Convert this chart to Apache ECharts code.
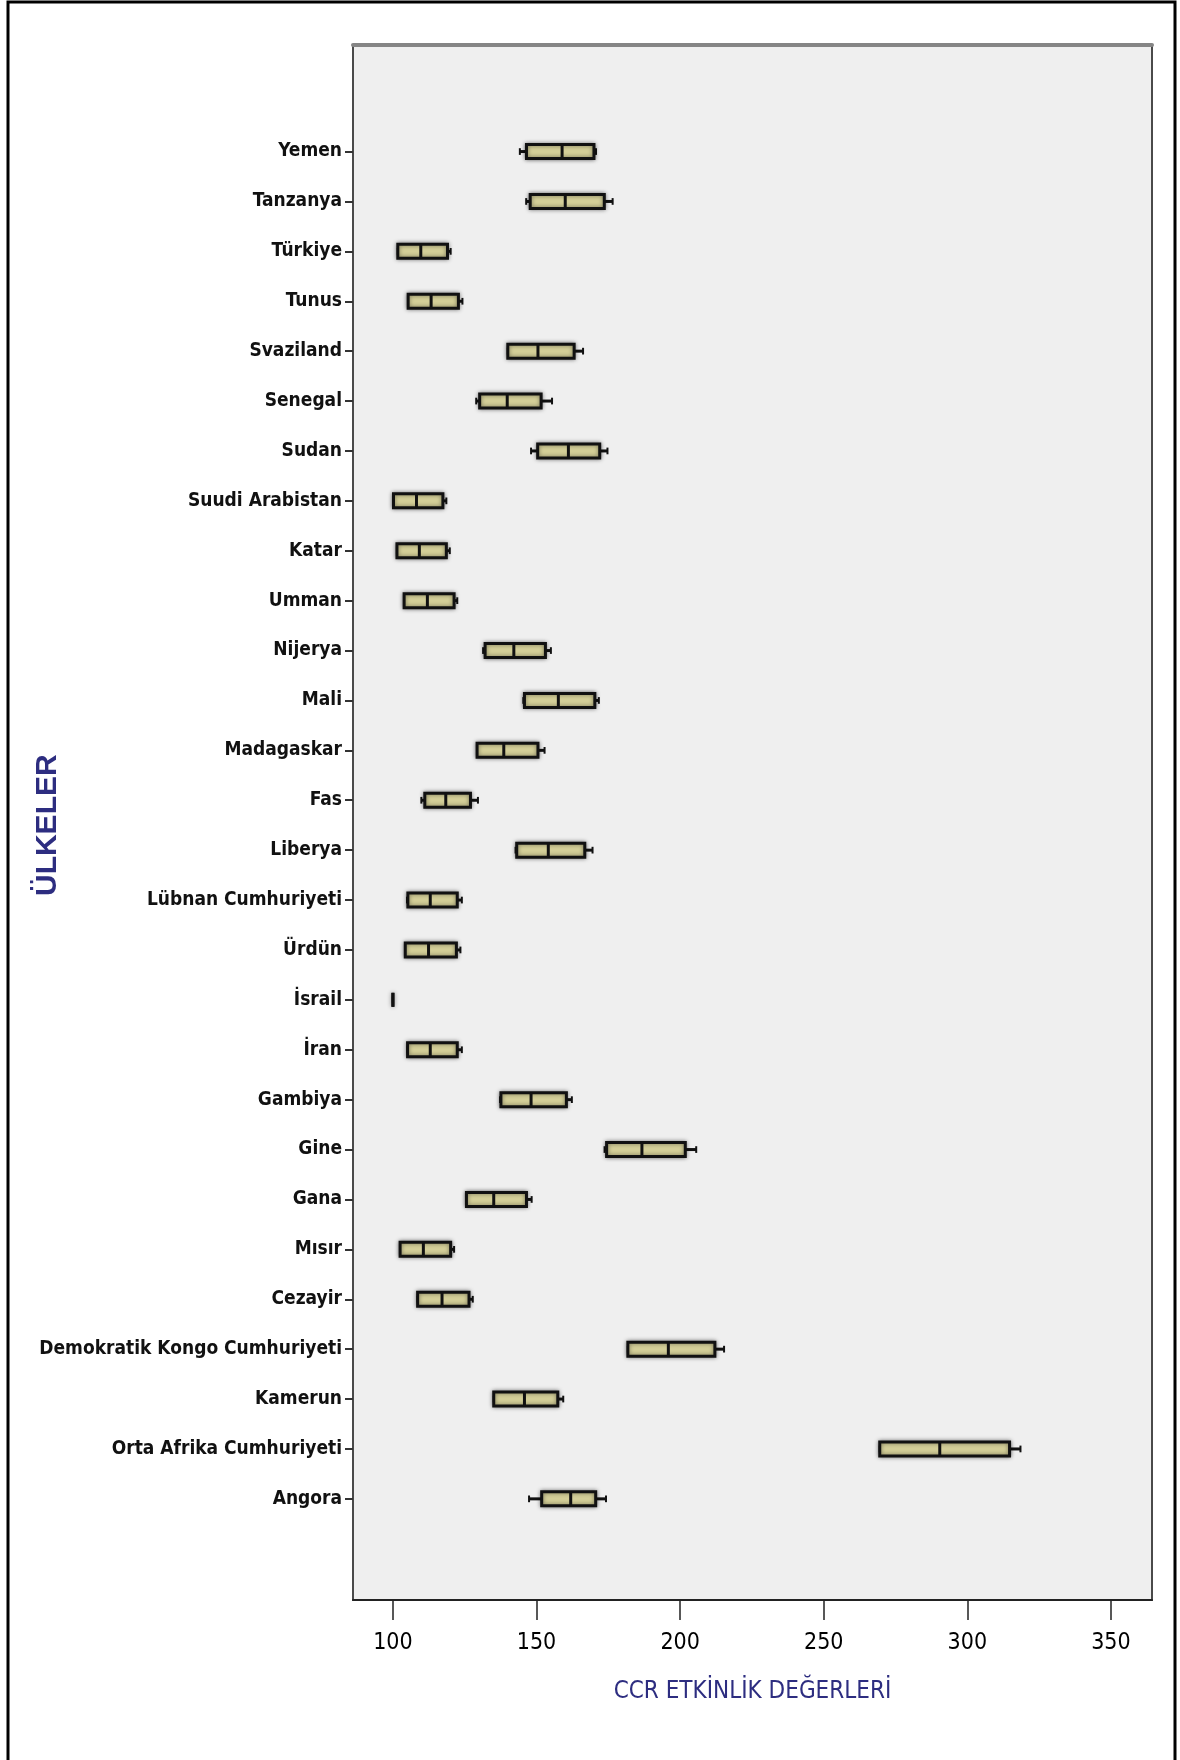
<!DOCTYPE html>
<html>
<head>
<meta charset="utf-8">
<script src="https://cdn.jsdelivr.net/npm/echarts@6/dist/echarts.min.js"></script>
<style>
  html, body { margin: 0; padding: 0; background: #fff; }
  #chart { width: 1180px; height: 1760px; }
</style>
</head>
<body>
<div id="chart"></div>
<script>
// countries, top to bottom
const countries = [
    'Yemen', 'Tanzanya', 'Türkiye', 'Tunus', 'Svaziland', 'Senegal', 'Sudan',
    'Suudi Arabistan', 'Katar', 'Umman', 'Nijerya', 'Mali', 'Madagaskar', 'Fas',
    'Liberya', 'Lübnan Cumhuriyeti', 'Ürdün', 'İsrail', 'İran', 'Gambiya', 'Gine',
    'Gana', 'Mısır', 'Cezayir', 'Demokratik Kongo Cumhuriyeti', 'Kamerun',
    'Orta Afrika Cumhuriyeti', 'Angora'
];
// box plot pieces
const whiskerLow = [144.2, 146.4, 101.7, 105.3, 140.0, 129.0, 148.1, 100.2, 101.4, 103.9, 131.4, 145.4, 129.3, 109.9,
    142.7, 104.9, 104.3, 100.0, 105.1, 137.3, 173.7, 125.6, 102.5, 108.6, 181.8, 135.1, 269.5, 147.4];
const q1 = [146.5, 147.8, 101.7, 105.3, 140.0, 130.2, 150.4, 100.2, 101.4, 103.9, 132.1, 145.8, 129.3, 111.1,
    143.1, 105.2, 104.3, 100.0, 105.1, 137.6, 174.4, 125.6, 102.5, 108.6, 181.8, 135.1, 269.5, 151.8];
const median = [158.9, 160.0, 109.7, 113.3, 150.5, 139.8, 161.1, 108.2, 109.2, 112.0, 142.1, 157.6, 138.6, 118.4,
    154.1, 113.0, 112.4, 100.0, 113.0, 148.1, 186.7, 135.1, 110.6, 117.1, 195.9, 145.8, 290.4, 161.9];
const q3 = [170.0, 173.6, 119.0, 122.8, 163.1, 151.6, 172.0, 117.4, 118.6, 121.3, 153.1, 170.3, 150.5, 127.0,
    166.8, 122.4, 122.1, 100.0, 122.4, 160.4, 201.8, 146.5, 120.1, 126.5, 212.1, 157.4, 314.7, 170.6];
const whiskerHigh = [170.7, 176.5, 120.1, 124.2, 166.2, 155.4, 174.7, 118.6, 119.8, 122.4, 155.0, 171.7, 152.8, 129.6,
    169.5, 124.0, 123.5, 100.0, 124.0, 162.3, 205.6, 148.3, 121.3, 127.8, 215.3, 159.3, 318.5, 174.2];
const xTicks = [100, 150, 200, 250, 300, 350];

const boxData = countries.map((c, i) => [i, whiskerLow[i], q1[i], median[i], q3[i], whiskerHigh[i]]);

const narrow = '"DejaVu Sans Condensed", "Liberation Sans Narrow", sans-serif';
const navy = '#2d2d80';

function renderBox(params, api) {
    const cat = api.value(0);
    const lo = api.coord([api.value(1), cat]);
    const b1 = api.coord([api.value(2), cat]);
    const md = api.coord([api.value(3), cat]);
    const b3 = api.coord([api.value(4), cat]);
    const hi = api.coord([api.value(5), cat]);
    const band = api.size([0, 1])[1];
    const h = band * 0.28;
    const cap = h * 0.24;
    const y = md[1];
    const lineStyle = { stroke: '#111', lineWidth: 3 };
    return {
        type: 'group',
        children: [
            { type: 'line', shape: { x1: lo[0], y1: y, x2: b1[0], y2: y }, style: lineStyle },
            { type: 'line', shape: { x1: b3[0], y1: y, x2: hi[0], y2: y }, style: lineStyle },
            { type: 'line', shape: { x1: lo[0], y1: y - cap, x2: lo[0], y2: y + cap }, style: { stroke: '#111', lineWidth: 2 } },
            { type: 'line', shape: { x1: hi[0], y1: y - cap, x2: hi[0], y2: y + cap }, style: { stroke: '#111', lineWidth: 2 } },
            {
                type: 'rect',
                shape: { x: b1[0], y: y - h / 2, width: b3[0] - b1[0], height: h },
                style: { fill: '#d4cf98', stroke: '#111', lineWidth: 3, shadowBlur: 4, shadowColor: 'rgba(0,0,0,0.45)' }
            },
            { type: 'line', shape: { x1: md[0], y1: y - h / 2, x2: md[0], y2: y + h / 2 }, style: lineStyle }
        ]
    };
}

const chart = echarts.init(document.getElementById('chart'));
const option = {
    animation: false,
    backgroundColor: '#fff',
    graphic: [{
        type: 'rect',
        shape: { x: 8, y: 2, width: 1167, height: 1800 },
        style: { fill: 'none', stroke: '#000', lineWidth: 3 },
        z: 100
    }],
    grid: [
        {
            left: 353, right: 28, top: 45, bottom: 160,
            outerBoundsMode: 'none',
            show: true, backgroundColor: '#efefef', borderColor: '#4a4a4a', borderWidth: 2
        },
        {
            left: 353, right: 28, top: 126.6, height: 1397.2,
            outerBoundsMode: 'none'
        }
    ],
    xAxis: [
        {
            gridIndex: 0,
            type: 'value',
            min: 86.1,
            max: 364.3,
            splitLine: { show: false },
            axisLine: { show: true, lineStyle: { color: '#222', width: 2 } },
            axisTick: { show: true, length: 20, customValues: xTicks, lineStyle: { color: '#222', width: 1.5 } },
            axisLabel: {
                customValues: xTicks,
                margin: 32,
                fontFamily: narrow,
                fontSize: 23,
                color: '#000'
            },
            name: 'CCR ETKİNLİK DEĞERLERİ',
            nameLocation: 'middle',
            nameGap: 80,
            nameTextStyle: { fontFamily: narrow, fontSize: 24, color: navy }
        },
        {
            gridIndex: 1,
            type: 'value',
            min: 86.1,
            max: 364.3,
            show: false
        },
        {
            // heavier grey top edge of the plot frame
            gridIndex: 0,
            type: 'value',
            position: 'top',
            min: 86.1,
            max: 364.3,
            axisLine: { show: true, lineStyle: { color: '#858585', width: 4 } },
            axisTick: { show: false },
            axisLabel: { show: false },
            splitLine: { show: false }
        }
    ],
    yAxis: [
        {
            gridIndex: 0,
            type: 'value',
            show: false
        },
        {
            gridIndex: 1,
            type: 'category',
            data: countries,
            inverse: true,
            axisLine: { show: false },
            axisTick: { show: true, alignWithLabel: true, length: 8, lineStyle: { color: '#333', width: 2 } },
            axisLabel: {
                margin: 11,
                fontFamily: narrow,
                fontWeight: 'bold',
                fontSize: 19,
                color: '#111',
                padding: [12, 0, 0, 0]
            },
            name: 'ÜLKELER',
            nameLocation: 'middle',
            nameGap: 290,
            nameMoveOverlap: false,
            nameTextStyle: { fontFamily: 'Liberation Sans, sans-serif', fontWeight: 'bold', fontSize: 30, color: navy }
        }
    ],
    series: [{
        type: 'custom',
        xAxisIndex: 1,
        yAxisIndex: 1,
        renderItem: renderBox,
        encode: { x: [1, 2, 3, 4, 5], y: 0 },
        data: boxData
    }]
};
chart.setOption(option);
</script>
</body>
</html>
